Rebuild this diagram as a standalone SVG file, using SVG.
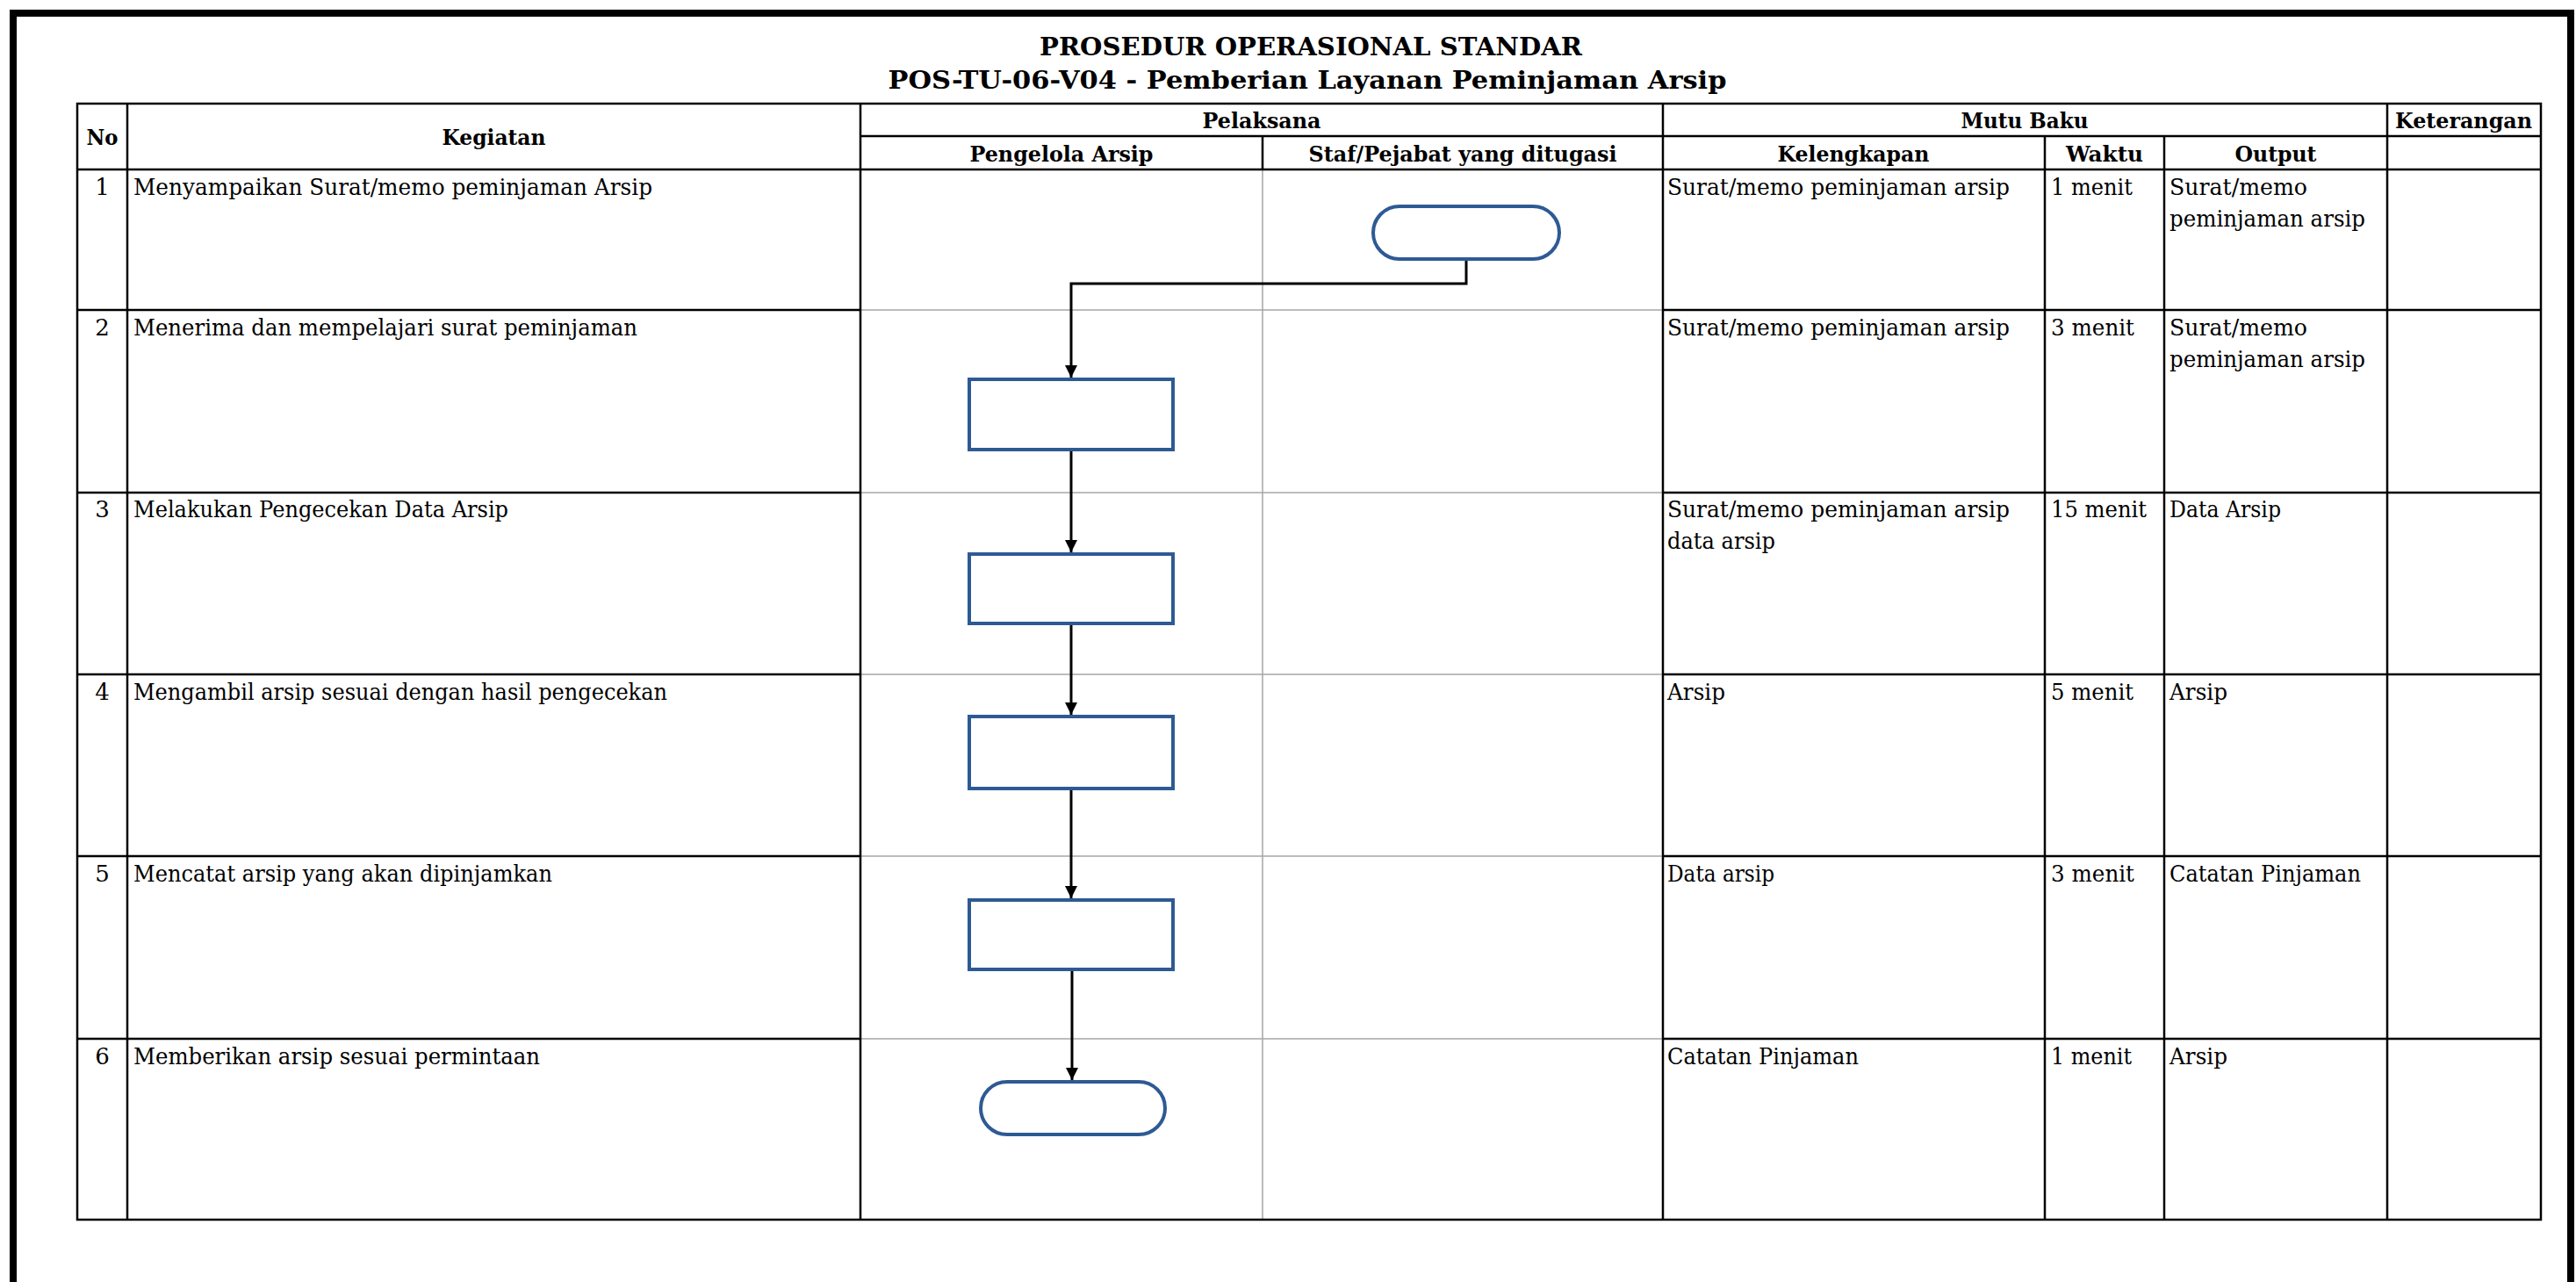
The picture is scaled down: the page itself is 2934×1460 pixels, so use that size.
<svg xmlns="http://www.w3.org/2000/svg" width="2934" height="1460" viewBox="0 0 2934 1460">
<style>
.t{font-family:"DejaVu Serif","Liberation Serif",serif;font-size:26px;fill:#000}
.b{font-weight:bold;font-size:25px}
.m{text-anchor:middle}
.ttl{font-family:"DejaVu Serif","Liberation Serif",serif;font-size:28px;font-weight:bold;text-anchor:middle;fill:#000}
.blk{stroke:#000;stroke-width:2.5;fill:none}
.gry{stroke:#a6a6a6;stroke-width:1.5;fill:none}
.shape{fill:#fff;stroke:#2e5a94;stroke-width:4}
.con{stroke:#000;stroke-width:3;fill:none}
</style>
<defs>
<marker id="arr" markerUnits="userSpaceOnUse" markerWidth="14" markerHeight="16" refX="14" refY="7" orient="auto">
<path d="M0,0 L14,7 L0,14 z" fill="#000"/>
</marker>
</defs>
<rect x="0" y="0" width="2934" height="1460" fill="#fff"/>
<path d="M15,1460 V15 H2928 V1460" stroke="#000" stroke-width="8" fill="none"/>

<g id="title">
<text class="ttl" x="1493" y="63" textLength="618" lengthAdjust="spacingAndGlyphs">PROSEDUR OPERASIONAL STANDAR</text>
<text class="ttl" x="1489" y="101" textLength="955" lengthAdjust="spacingAndGlyphs">POS-TU-06-V04 - Pemberian Layanan Peminjaman Arsip</text>
</g>

<g id="grid">
<path class="gry" d="M1438,193 V1389 M980,353 H1894 M980,561 H1894 M980,768 H1894 M980,975 H1894 M980,1183 H1894"/>
<rect class="blk" x="88" y="118" width="2806" height="1271"/>
<path class="blk" d="M145,118 V1389 M980,118 V1389 M1894,118 V1389 M2329,155 V1389 M2465,155 V1389 M2719,118 V1389 M1438,155 V193 M980,155 H2894 M88,193 H2894"/>
<path class="blk" d="M88,353 H980 M1894,353 H2894 M88,561 H980 M1894,561 H2894 M88,768 H980 M1894,768 H2894 M88,975 H980 M1894,975 H2894 M88,1183 H980 M1894,1183 H2894"/>
</g>

<g id="header">
<text class="t b m" x="116.5" y="165" textLength="36" lengthAdjust="spacingAndGlyphs">No</text>
<text class="t b m" x="562.5" y="165" textLength="118" lengthAdjust="spacingAndGlyphs">Kegiatan</text>
<text class="t b m" x="1437" y="146" textLength="135" lengthAdjust="spacingAndGlyphs">Pelaksana</text>
<text class="t b m" x="2306" y="146" textLength="145" lengthAdjust="spacingAndGlyphs">Mutu Baku</text>
<text class="t b m" x="2806" y="146" textLength="156" lengthAdjust="spacingAndGlyphs">Keterangan</text>
<text class="t b m" x="1209" y="184" textLength="209" lengthAdjust="spacingAndGlyphs">Pengelola Arsip</text>
<text class="t b m" x="1666" y="184" textLength="351" lengthAdjust="spacingAndGlyphs">Staf/Pejabat yang ditugasi</text>
<text class="t b m" x="2111" y="184" textLength="173" lengthAdjust="spacingAndGlyphs">Kelengkapan</text>
<text class="t b m" x="2397" y="184" textLength="88" lengthAdjust="spacingAndGlyphs">Waktu</text>
<text class="t b m" x="2592" y="184" textLength="93" lengthAdjust="spacingAndGlyphs">Output</text>
</g>

<g id="rows">
<text class="t m" x="116.5" y="222">1</text>
<text class="t" x="152" y="222" textLength="591" lengthAdjust="spacingAndGlyphs">Menyampaikan Surat/memo peminjaman Arsip</text>
<text class="t" x="1899" y="222" textLength="390" lengthAdjust="spacingAndGlyphs">Surat/memo peminjaman arsip</text>
<text class="t" x="2336" y="222" textLength="93" lengthAdjust="spacingAndGlyphs">1 menit</text>
<text class="t" x="2471" y="222" textLength="157" lengthAdjust="spacingAndGlyphs">Surat/memo</text>
<text class="t" x="2471" y="258" textLength="223" lengthAdjust="spacingAndGlyphs">peminjaman arsip</text>

<text class="t m" x="116.5" y="382">2</text>
<text class="t" x="152" y="382" textLength="574" lengthAdjust="spacingAndGlyphs">Menerima dan mempelajari surat peminjaman</text>
<text class="t" x="1899" y="382" textLength="390" lengthAdjust="spacingAndGlyphs">Surat/memo peminjaman arsip</text>
<text class="t" x="2336" y="382" textLength="95" lengthAdjust="spacingAndGlyphs">3 menit</text>
<text class="t" x="2471" y="382" textLength="157" lengthAdjust="spacingAndGlyphs">Surat/memo</text>
<text class="t" x="2471" y="418" textLength="223" lengthAdjust="spacingAndGlyphs">peminjaman arsip</text>

<text class="t m" x="116.5" y="589">3</text>
<text class="t" x="152" y="589" textLength="427" lengthAdjust="spacingAndGlyphs">Melakukan Pengecekan Data Arsip</text>
<text class="t" x="1899" y="589" textLength="390" lengthAdjust="spacingAndGlyphs">Surat/memo peminjaman arsip</text>
<text class="t" x="1899" y="625" textLength="123" lengthAdjust="spacingAndGlyphs">data arsip</text>
<text class="t" x="2336" y="589" textLength="109" lengthAdjust="spacingAndGlyphs">15 menit</text>
<text class="t" x="2471" y="589" textLength="127" lengthAdjust="spacingAndGlyphs">Data Arsip</text>

<text class="t m" x="116.5" y="797">4</text>
<text class="t" x="152" y="797" textLength="608" lengthAdjust="spacingAndGlyphs">Mengambil arsip sesuai dengan hasil pengecekan</text>
<text class="t" x="1899" y="797" textLength="66" lengthAdjust="spacingAndGlyphs">Arsip</text>
<text class="t" x="2336" y="797" textLength="94" lengthAdjust="spacingAndGlyphs">5 menit</text>
<text class="t" x="2471" y="797" textLength="66" lengthAdjust="spacingAndGlyphs">Arsip</text>

<text class="t m" x="116.5" y="1004">5</text>
<text class="t" x="152" y="1004" textLength="477" lengthAdjust="spacingAndGlyphs">Mencatat arsip yang akan dipinjamkan</text>
<text class="t" x="1899" y="1004" textLength="122" lengthAdjust="spacingAndGlyphs">Data arsip</text>
<text class="t" x="2336" y="1004" textLength="95" lengthAdjust="spacingAndGlyphs">3 menit</text>
<text class="t" x="2471" y="1004" textLength="218" lengthAdjust="spacingAndGlyphs">Catatan Pinjaman</text>

<text class="t m" x="116.5" y="1212">6</text>
<text class="t" x="152" y="1212" textLength="463" lengthAdjust="spacingAndGlyphs">Memberikan arsip sesuai permintaan</text>
<text class="t" x="1899" y="1212" textLength="218" lengthAdjust="spacingAndGlyphs">Catatan Pinjaman</text>
<text class="t" x="2336" y="1212" textLength="92" lengthAdjust="spacingAndGlyphs">1 menit</text>
<text class="t" x="2471" y="1212" textLength="66" lengthAdjust="spacingAndGlyphs">Arsip</text>
</g>

<g id="connectors">
<path class="con" d="M1670,295 V323 H1220 V430" marker-end="url(#arr)"/>
<path class="con" d="M1220,512 V629" marker-end="url(#arr)"/>
<path class="con" d="M1220,710 V814" marker-end="url(#arr)"/>
<path class="con" d="M1220,898 V1023" marker-end="url(#arr)"/>
<path class="con" d="M1221,1104 V1230" marker-end="url(#arr)"/>
</g>

<g id="node-start"><rect class="shape" x="1564" y="235" width="212" height="60" rx="30" ry="30"/></g>
<g id="node-2"><rect class="shape" x="1104" y="432" width="232" height="80"/></g>
<g id="node-3"><rect class="shape" x="1104" y="631" width="232" height="79"/></g>
<g id="node-4"><rect class="shape" x="1104" y="816" width="232" height="82"/></g>
<g id="node-5"><rect class="shape" x="1104" y="1025" width="232" height="79"/></g>
<g id="node-end"><rect class="shape" x="1117" y="1232" width="210" height="60" rx="30" ry="30"/></g>
</svg>
